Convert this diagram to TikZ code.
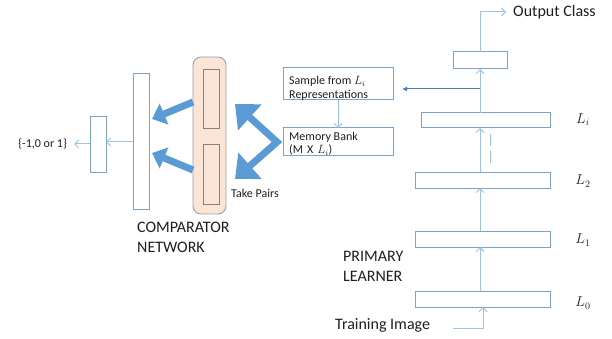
\documentclass[tikz,border=0pt]{standalone}
\usepackage{fontspec}
\setmainfont{Carlito}
\usetikzlibrary{arrows.meta}
\definecolor{linec}{RGB}{157,195,230}
\definecolor{boxc}{RGB}{126,162,200}
\definecolor{thickc}{RGB}{91,155,213}
\definecolor{darkc}{RGB}{68,126,196}
\definecolor{peach}{RGB}{251,229,214}
\definecolor{peachb}{RGB}{160,160,160}
\definecolor{txt}{RGB}{30,30,30}
\tikzset{
  box/.style={draw=boxc, line width=1pt, fill=white, inner sep=0pt, outer sep=0pt},
  inbox/.style={draw=gray!85!brown, line width=0.9pt, inner sep=0pt, outer sep=0pt},
  thinarrow/.style={draw=linec, line width=1pt, -{Straight Barb[length=4pt,width=8pt]}},
  thinline/.style={draw=linec, line width=1pt},
  darkarrow/.style={draw=darkc, line width=1pt, -{Latex[length=5pt,width=5pt]}},
  fatarrow/.style={draw=thickc, line width=7pt, -{Triangle[length=13pt,width=22pt]}},
  vee/.style={draw=thickc, line width=7pt, line join=miter, {Triangle[length=20pt,width=34pt]}-{Triangle[length=20pt,width=34pt]}},
  bigtxt/.style={font=\fontsize{16}{20}\selectfont, text=txt, inner sep=0pt},
  smalltxt/.style={font=\fontsize{12}{13.5}\selectfont, text=txt, inner sep=0pt},
  lab/.style={font=\fontsize{14}{16}\selectfont, text=txt, inner sep=0pt}
}
\begin{document}
\begin{tikzpicture}[x=1pt,y=-1pt]
\useasboundingbox (0,0) rectangle (612,339);

% primary learner boxes
\node[box, minimum width=54pt, minimum height=17pt] (out) at (480,60.5) {};
\node[box, minimum width=129pt, minimum height=15pt] (Li) at (485.5,120.5) {};
\node[box, minimum width=135pt, minimum height=16pt] (L2) at (482.5,180) {};
\node[box, minimum width=135pt, minimum height=16pt] (L1) at (482.5,239) {};
\node[box, minimum width=135pt, minimum height=16pt] (L0) at (482.5,299) {};

\node[lab] (labi) at (583,120) {$L_i$};
\node[lab] (lab2) at (583,181) {$L_2$};
\node[lab] (lab1) at (583,240) {$L_1$};
\node[lab] (lab0) at (583,303) {$L_0$};

\node[bigtxt, anchor=west] (outtxt) at (513,12) {Output Class};
\node[bigtxt, anchor=west] (train) at (335,325) {Training Image};
\node[bigtxt, anchor=west, align=left] (prim) at (343,266.5) {PRIMARY\\LEARNER};

% sample and memory
\node[box, minimum width=110pt, minimum height=32pt] (sample) at (338,84) {};
\node[smalltxt, anchor=west, align=left] (sampletxt) at (289,88.5) {Sample from $L_i$\\Representations};
\node[box, minimum width=110pt, minimum height=28pt] (mem) at (338,142) {};
\node[smalltxt, anchor=west, align=left] (memtxt) at (289,143.5) {Memory Bank\\(M\,\,X\,\,$L_i$)};

% comparator
\node[draw=peachb, fill=peach, line width=0.9pt, rounded corners=8pt, minimum width=33pt, minimum height=157pt, inner sep=0pt, outer sep=0pt] (peachbox) at (209.5,135.5) {};
\node[inbox, minimum width=16pt, minimum height=59pt] (in1) at (211,98.5) {};
\node[inbox, minimum width=16pt, minimum height=60pt] (in2) at (211,174) {};
\node[box, minimum width=16pt, minimum height=135pt] (comp) at (141,141.5) {};
\node[box, minimum width=16pt, minimum height=55pt] (small) at (98,144.5) {};
\node[smalltxt, anchor=east] (res) at (67,144) {\{-1,0 or 1\}};
\node[bigtxt, anchor=west, align=left] (comptxt) at (137,237) {COMPARATOR\\NETWORK};
\node[smalltxt, anchor=west] (pairs) at (231,193) {Take Pairs};

% coordinates
\coordinate (oc) at (506,12);
\coordinate (br) at (480,89);
\coordinate (bt) at (402,89);
\coordinate (ti) at (453,328);
\coordinate (tc) at (483,328);
\coordinate (v) at (277,142);
\coordinate (vt1) at (235,104);
\coordinate (vt2) at (235,179);
\coordinate (fa1s) at (193,102);
\coordinate (fa1e) at (152,119);
\coordinate (fa2s) at (193,170);
\coordinate (fa2e) at (152,153);
\coordinate (d1) at (490.5,134);
\coordinate (d2) at (490.5,166);
\coordinate (resend) at (74,144);

% connectors
\draw[thinarrow] (out.north) |- (oc);
\draw[thinarrow] (out.south |- Li.north) -- (out.south);
\draw[darkarrow] (br) -- (bt);
\draw[thinarrow] (out.south |- L2.north) -- (out.south |- Li.south);
\draw[thinline, dash pattern=on 12pt off 5pt] (d1) -- (d2);
\draw[thinarrow] (out.south |- L1.north) -- (out.south |- L2.south);
\draw[thinarrow] (out.south |- L0.north) -- (out.south |- L1.south);
\draw[thinarrow] (ti) -- (tc) -- (tc |- L0.south);
\draw[thinarrow] (sample.south) -- (mem.north);
\draw[thinarrow] (comp.west |- 0,142) -- (small.east |- 0,142);
\draw[thinarrow] (small.west |- resend) -- (resend);

\draw[fatarrow] (fa1s) -- (fa1e);
\draw[fatarrow] (fa2s) -- (fa2e);
\draw[vee] (vt1) -- (v) -- (vt2);
\end{tikzpicture}
\end{document}
